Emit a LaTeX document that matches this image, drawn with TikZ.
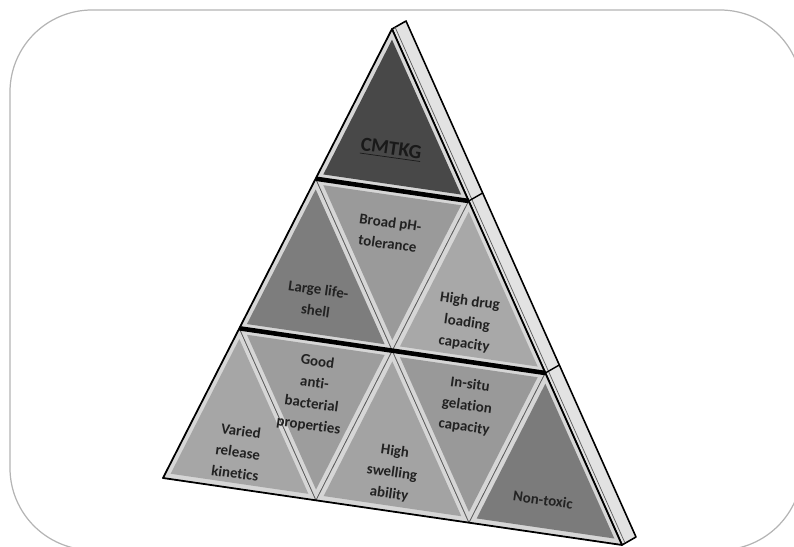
\documentclass[tikz,border=0pt]{standalone}
\usepackage{fontspec}
\setmainfont{Carlito}[Ligatures=NoCommon]
\usetikzlibrary{calc}

\definecolor{framegray}{HTML}{B4B4B4}
\definecolor{sidegray}{HTML}{E2E2E2}
\definecolor{bevelgray}{HTML}{D6D6D6}
\definecolor{seamgray}{HTML}{5A5A5A}
\definecolor{inkgray}{HTML}{222222}
\definecolor{tileA}{HTML}{484848}
\definecolor{tileB}{HTML}{7D7D7D}
\definecolor{tileC}{HTML}{9A9A9A}
\definecolor{tileD}{HTML}{A8A8A8}
\definecolor{tileE}{HTML}{A6A6A6}
\definecolor{tileF}{HTML}{9D9D9D}
\definecolor{tileG}{HTML}{A3A3A3}
\definecolor{tileH}{HTML}{999999}
\definecolor{tileI}{HTML}{7B7B7B}

\newcommand{\tile}[4]{%
  \fill[bevelgray] (#1) -- (#2) -- (#3) -- cycle;
  \coordinate (mid) at (barycentric cs:#1=1,#2=1,#3=1);
  \fill[#4] ($(mid)!0.9!(#1)$) -- ($(mid)!0.9!(#2)$) -- ($(mid)!0.9!(#3)$) -- cycle;
  \draw[seam] (#1) -- (#2) -- (#3) -- cycle;
}

\begin{document}
\begin{tikzpicture}[x=0.02cm, y=-0.02cm,
  seam/.style={draw=seamgray, line width=0.4pt},
  band/.style={draw=black, line width=2.6pt},
  edge/.style={draw=black, line width=1pt, line join=round},
  side/.style={fill=sidegray, draw=black, line width=0.9pt, line join=round},
  label/.style={font=\fontsize{8.5}{12.2}\selectfont\bfseries, text=inkgray, align=center, rotate=-8, inner sep=0pt}]

\useasboundingbox (0,0) rectangle (794,547);
\clip (0,0) rectangle (794,547);

\draw [framegray, line width=0.7pt, rounded corners=1.64cm] (10,10) rectangle (802,550);

\coordinate (p00) at (392,29);
\coordinate (p10) at (315.7,178.7);
\coordinate (p11) at (468.7,201);
\coordinate (p20) at (239.3,328.3);
\coordinate (p21) at (392.3,350.7);
\coordinate (p22) at (545.3,373);
\coordinate (p30) at (163,478);
\coordinate (p31) at (316,500.3);
\coordinate (p32) at (469,522.7);
\coordinate (p33) at (622,545);

\coordinate (q00) at (406,21);
\coordinate (q11) at (482.7,193);
\coordinate (q22) at (559.3,365);
\coordinate (q33) at (636,537);

\filldraw [side] (p00) -- (q00) -- (q33) -- (p33) -- cycle;
\draw [seamgray, line width=0.4pt] (395,27) -- (625,543);
\draw [black, line width=0.8pt] (p11) -- (q11);
\draw [black, line width=0.8pt] (p22) -- (q22);

\tile{p00}{p10}{p11}{tileA}
\tile{p10}{p20}{p21}{tileB}
\tile{p10}{p11}{p21}{tileC}
\tile{p11}{p21}{p22}{tileD}
\tile{p20}{p30}{p31}{tileE}
\tile{p20}{p21}{p31}{tileF}
\tile{p21}{p31}{p32}{tileG}
\tile{p21}{p22}{p32}{tileH}
\tile{p22}{p32}{p33}{tileI}

\draw [band] (p10) -- (p11);
\draw [band] (p20) -- (p22);
\draw [edge] (p00) -- (p30) -- (p33) -- cycle;

\node [label, font=\fontsize{11.4}{13}\selectfont\bfseries, text=black!90] (cmtkg) at (391,150) {\underline{CMTKG}};
\node [label] (broad) at (389,233) {Broad pH-\\tolerance};
\node [label] (large) at (317,300) {Large life-\\shell};
\node [label] (drug) at (467,323) {High drug\\loading\\capacity};
\node [label] (good) at (313,394) {Good\\anti-\\bacterial\\properties};
\node [label] (varied) at (238,452) {Varied\\release\\kinetics};
\node [label] (swelling) at (392,473) {High\\swelling\\ability};
\node [label] (insitu) at (467,406) {In-situ\\gelation\\capacity};
\node [label] (nontoxic) at (543,500) {Non-toxic};

\end{tikzpicture}
\end{document}
